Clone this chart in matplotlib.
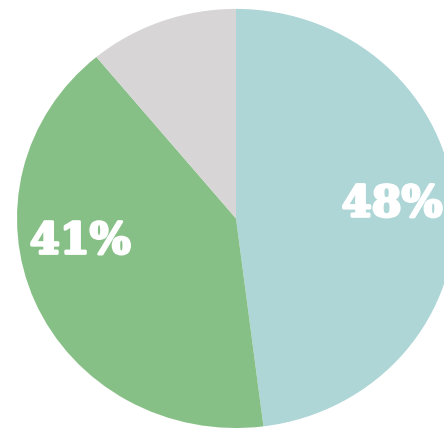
import matplotlib
matplotlib.use("Agg")
import matplotlib.pyplot as plt
import matplotlib.patheffects as pe

categories = ["A", "B", "C"]
values = [48, 41, 11]
labels = ["48%", "41%", ""]
colors = ["#aed6d7", "#87c087", "#d8d5d7"]

fig = plt.figure(figsize=(4.44, 4.30), dpi=100)
ax = fig.add_axes([0, 0, 1, 1])
ax.pie(values, colors=colors, startangle=90, counterclock=False,
       radius=1.0, wedgeprops=dict(linewidth=0))
ax.set_aspect("auto")
ax.set_xlim(-236 / 219, 208 / 219)
ax.set_ylim(-214 / 212, 221 / 212)
ax.axis("off")

label_pos = [(0.712, 0.067), (-0.712, -0.11)]
for lab, (x, y) in zip(labels[:2], label_pos):
    ax.text(x, y, lab, ha="center", va="center", color="white",
            fontsize=31, fontweight="bold", family="DejaVu Serif",
            path_effects=[pe.withStroke(linewidth=2, foreground="white")])

fig.savefig("out.png", dpi=100)
